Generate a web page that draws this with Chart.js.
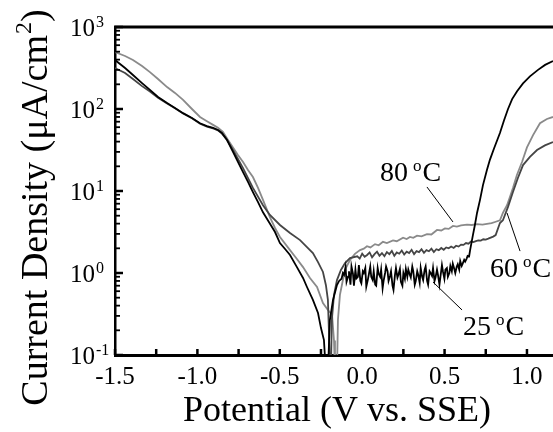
<!DOCTYPE html>
<html><head><meta charset="utf-8">
<script src="https://cdn.jsdelivr.net/npm/chart.js@4"></script>
<style>html,body{margin:0;padding:0;background:#fff;overflow:hidden}canvas{display:block}</style>
</head><body><canvas id="c" width="553" height="432"></canvas>
<script>
// ---- tick labels / titles ----
const xTickValues = [-1.5, -1.0, -0.5, 0.0, 0.5, 1.0];
const xTickLabels = ['-1.5', '-1.0', '-0.5', '0.0', '0.5', '1.0'];
const yTickValues = [1000, 100, 10, 1, 0.1];
const yTickExponents = ['3', '2', '1', '0', '-1'];
const xAxisTitle = 'Potential (V vs. SSE)';
const yAxisTitle = ['Current Density (\u03BCA/cm', '2', ')'];
const seriesTemps = ['25', '60', '80'];

// ---- 25 oC (black) ----
const pot25 = [-1.500,-1.439,-1.391,-1.336,-1.288,-1.239,-1.184,-1.136,-1.087,-1.033,-0.984,-0.942,-0.905,-0.875,-0.851,-0.820,-0.784,-0.754,-0.723,-0.693,-0.663,-0.632,-0.602,-0.566,-0.529,-0.499,-0.468,-0.438,-0.396,-0.359,-0.335,-0.299,-0.268,-0.250,-0.232,-0.220,-0.208,-0.196,-0.177,-0.153,-0.140,
 -0.125,-0.117,-0.110,-0.101,-0.095,-0.086,-0.080,-0.071,-0.065,-0.056,-0.050,-0.041,-0.035,-0.026,-0.020,-0.011,-0.005,0.004,0.010,0.019,0.025,0.034,0.040,0.049,0.055,0.064,0.070,0.079,0.085,0.094,0.100,0.109,0.115,0.124,0.130,0.139,0.145,0.154,0.160,0.169,0.175,0.184,0.190,0.199,0.205,0.214,0.220,0.229,0.235,0.244,0.250,0.259,0.265,0.274,0.280,0.289,0.295,0.304,0.310,0.319,0.325,0.334,0.340,0.349,0.355,0.364,0.370,0.379,0.385,0.394,0.400,0.409,0.415,0.424,0.430,0.439,0.445,0.454,0.460,0.469,0.475,0.484,0.490,0.499,0.505,0.514,0.520,0.529,0.535,0.544,0.550,0.559,0.565,0.574,0.580,0.589,0.595,0.604,0.610,0.619,0.625,0.634,0.640,0.649,0.655,
 0.672,0.684,0.697,0.715,0.733,0.757,0.775,0.800,0.836,0.860,0.885,0.910,0.940,0.976,1.018,1.067,1.110,1.158];
const cur25 = [396,316,260,207,171,140,118,103,89,77.6,67,62,59,55.5,51,41.9,30,22.6,17,12.9,9.7,7.3,5.5,4.19,3.16,2.32,1.96,1.66,1.18,0.869,0.675,0.469,0.325,0.213,0.152,0.06,0.06,0.267,0.469,0.714,0.80,
 0.85,1.0,0.95,1.18,0.78,0.9,1.05,0.72,1.2,0.98,0.7,1.1,0.86,0.9,1.25,0.8,0.75,1.05,1.0,1.15,0.68,0.82,0.95,1.2,0.9,0.82,1.05,0.72,0.7,1.15,0.98,0.9,1.1,0.65,0.8,1.0,1.2,1.05,0.8,0.92,1.05,0.7,0.62,0.95,1.15,0.88,0.95,1.12,0.78,0.7,1.0,0.85,1.12,0.9,1.1,0.95,0.88,1.2,1.05,0.72,0.8,1.05,0.95,0.76,1.15,0.9,0.82,1.1,1.2,0.8,0.72,1.05,1.0,0.92,1.15,0.8,0.88,1.1,0.95,0.72,0.9,1.25,1.05,0.85,1.1,1.15,0.9,1.0,1.22,1.05,1.3,1.12,1.0,1.2,1.28,1.1,1.4,1.22,1.3,1.45,1.38,1.5,1.62,1.6,1.9,
 2.9,3.85,5.4,7.8,11.8,18,24,33,51,72,100,132,165,205,250,300,345,385];

// ---- 60 oC (dark grey) ----
const pot60 = [-1.500,-1.439,-1.391,-1.336,-1.288,-1.239,-1.184,-1.136,-1.087,-1.033,-0.984,-0.942,-0.905,-0.875,-0.851,-0.820,-0.784,-0.723,-0.663,-0.602,-0.560,-0.499,-0.438,-0.377,-0.335,-0.299,-0.268,-0.238,-0.220,-0.208,-0.202,-0.196,-0.190,-0.184,-0.171,-0.153,-0.129,-0.104,-0.074,-0.030,
 -0.015,0.000,0.015,0.030,0.045,0.060,0.075,0.090,0.105,0.120,0.135,0.150,0.165,0.180,0.195,0.210,0.225,0.240,0.255,0.270,0.285,0.300,0.315,0.330,0.345,0.360,0.375,0.390,0.405,0.420,0.435,0.450,0.465,0.480,0.495,0.510,0.525,0.540,0.555,0.570,0.585,0.600,0.615,0.630,0.645,0.660,0.675,0.690,0.705,0.720,0.735,0.750,0.765,0.780,0.795,0.810,
 0.836,0.854,0.885,0.915,0.945,0.976,1.018,1.061,1.109,1.158];
const cur60 = [316,275,232,190,163,137,117,102,88,77,66,61,58,55,50,41.9,31.6,19,10.9,6.7,5.1,3.85,3.07,2.52,2.07,1.75,1.36,1.03,0.71,0.47,0.2,0.06,0.06,0.27,0.54,0.82,1.09,1.32,1.52,1.6,
 1.5,1.72,1.58,1.66,1.78,1.55,1.7,1.82,1.62,1.75,1.6,1.8,1.7,1.86,1.62,1.78,1.72,1.88,1.68,1.82,1.75,1.92,1.7,1.85,1.8,1.95,1.76,1.9,1.84,1.98,1.8,1.95,1.9,2.02,1.92,2.05,2.0,2.1,2.02,2.15,2.1,2.22,2.2,2.32,2.28,2.42,2.38,2.45,2.5,2.48,2.58,2.55,2.62,2.7,2.78,2.9,
 4.07,4.4,6.4,9.7,14.4,20.7,26,31.6,36,39.6];

// ---- 80 oC (light grey) ----
const pot80 = [-1.500,-1.439,-1.391,-1.336,-1.288,-1.239,-1.184,-1.136,-1.087,-1.033,-0.984,-0.942,-0.905,-0.875,-0.845,-0.814,-0.784,-0.754,-0.723,-0.693,-0.663,-0.632,-0.602,-0.560,-0.529,-0.499,-0.438,-0.396,-0.359,-0.317,-0.274,-0.238,-0.208,-0.183,-0.171,-0.165,-0.153,-0.147,-0.135,-0.117,-0.099,-0.074,-0.044,-0.013,
 0.010,0.029,0.050,0.078,0.100,0.126,0.150,0.187,0.210,0.248,0.270,0.290,0.310,0.333,0.360,0.393,0.420,0.454,0.480,0.502,0.525,0.551,0.575,0.600,0.636,0.665,0.697,0.730,0.757,0.785,0.806,
 0.836,0.854,0.879,0.897,0.915,0.939,0.970,1.000,1.037,1.079,1.121,1.158];
const cur80 = [495,443,396,334,282,232,185,157,129,100,80,71,64,59,52.5,41.9,34,27.5,22.6,18,14.8,10.9,7.8,4.8,3.54,2.75,1.9,1.48,1.18,0.87,0.675,0.43,0.354,0.31,0.15,0.06,0.06,0.27,0.54,0.82,1.15,1.44,1.71,1.9,
 1.98,2.12,2.05,2.25,2.18,2.4,2.32,2.5,2.44,2.7,2.6,2.75,2.68,2.85,2.8,2.98,2.95,3.35,3.3,3.5,3.45,3.75,3.68,3.8,3.9,3.85,3.95,3.9,3.98,4.05,4.19,
 4.4,5.4,6.7,8.5,10.9,15.7,22.6,34,48,67,75.5,80];

const toPts = (xs, ys) => xs.map((v, i) => ({x: v, y: ys[i]}));
const FF = "'Liberation Serif','Times New Roman',serif";

const deco = {
  id: 'deco',
  afterDraw(chart) {
    const {ctx, chartArea: a, scales: {x, y}} = chart;
    const line = (x1, y1, x2, y2) => { ctx.beginPath(); ctx.moveTo(x1, y1); ctx.lineTo(x2, y2); ctx.stroke(); };
    ctx.save();
    ctx.strokeStyle = '#000'; ctx.fillStyle = '#000';
    // top frame line
    ctx.lineWidth = 3;
    line(a.left - 1, a.top, a.right, a.top);
    // y ticks (inward)
    for (let e = -1; e <= 3; e++) {
      ctx.lineWidth = 2.5;
      const p = y.getPixelForValue(Math.pow(10, e));
      line(a.left, p, a.left + 8, p);
      if (e < 3) {
        ctx.lineWidth = 1.8;
        for (let k = 2; k <= 9; k++) {
          const q = y.getPixelForValue(k * Math.pow(10, e));
          line(a.left, q, a.left + 5, q);
        }
      }
    }
    // x ticks (inward) every 0.25
    ctx.lineWidth = 2.5;
    for (let v = -1.5; v <= x.max + 1e-9; v += 0.25) {
      const p = x.getPixelForValue(v);
      line(p, a.bottom, p, a.bottom - 6);
    }
    // x tick labels
    ctx.font = '25px ' + FF; ctx.textAlign = 'center'; ctx.textBaseline = 'alphabetic';
    xTickValues.forEach((v, i) => ctx.fillText(xTickLabels[i], x.getPixelForValue(v), a.bottom + 29));
    // y tick labels with superscripts
    yTickValues.forEach((v, i) => {
      const p = y.getPixelForValue(v);
      ctx.font = '25px ' + FF; ctx.textAlign = 'right'; ctx.textBaseline = 'middle';
      ctx.fillText('10', 95, p + 2);
      ctx.font = '16px ' + FF; ctx.textAlign = 'left'; ctx.textBaseline = 'alphabetic';
      ctx.fillText(yTickExponents[i], 96, p + 0);
    });
    // x title
    ctx.font = '36px ' + FF; ctx.textAlign = 'center'; ctx.textBaseline = 'alphabetic';
    ctx.fillText(xAxisTitle, 337, 421);
    // y title (rotated) with superscript 2
    ctx.save();
    ctx.translate(47, 208);
    ctx.rotate(-Math.PI / 2);
    ctx.font = '38px ' + FF;
    const w1 = ctx.measureText(yAxisTitle[0]).width;
    ctx.font = '24px ' + FF;
    const w2 = ctx.measureText(yAxisTitle[1]).width;
    ctx.font = '38px ' + FF;
    const w3 = ctx.measureText(yAxisTitle[2]).width;
    let sx = -(w1 + w2 + w3) / 2;
    ctx.textAlign = 'left';
    ctx.fillText(yAxisTitle[0], sx, 0);
    ctx.font = '24px ' + FF;
    ctx.fillText(yAxisTitle[1], sx + w1 + 1, -16);
    ctx.font = '38px ' + FF;
    ctx.fillText(yAxisTitle[2], sx + w1 + w2 + 1, 0);
    ctx.restore();
    // annotations: temperature labels with leader lines (data coordinates)
    const ann = [
      {t: seriesTemps[2], tx: 0.108, ty: 13.2, l: [0.393, 11.2, 0.551, 4.19]},
      {t: seriesTemps[1], tx: 0.775, ty: 0.893, l: [0.879, 5.4, 0.958, 1.85]},
      {t: seriesTemps[0], tx: 0.612, ty: 0.175, l: [0.430, 0.776, 0.606, 0.354]}
    ];
    ctx.lineWidth = 1;
    ann.forEach(an => {
      const px = x.getPixelForValue(an.tx), py = y.getPixelForValue(an.ty);
      ctx.textAlign = 'left'; ctx.textBaseline = 'alphabetic';
      ctx.font = '28px ' + FF;
      const tw = ctx.measureText(an.t + ' ').width;
      ctx.fillText(an.t + ' ', px, py);
      ctx.font = '17px ' + FF;
      const ow = ctx.measureText('o').width;
      ctx.fillText('o', px + tw - 2, py - 10);
      ctx.font = '28px ' + FF;
      ctx.fillText('C', px + tw + ow - 1, py);
      line(x.getPixelForValue(an.l[0]), y.getPixelForValue(an.l[1]), x.getPixelForValue(an.l[2]), y.getPixelForValue(an.l[3]));
    });
    ctx.restore();
  }
};

new Chart(document.getElementById('c'), {
  type: 'scatter',
  data: {
    datasets: [
      {label: '25 \u00B0C', data: toPts(pot25, cur25), showLine: true, borderColor: '#000000', borderWidth: 1.8, pointRadius: 0, tension: 0},
      {label: '60 \u00B0C', data: toPts(pot60, cur60), showLine: true, borderColor: '#454545', borderWidth: 1.8, pointRadius: 0, tension: 0},
      {label: '80 \u00B0C', data: toPts(pot80, cur80), showLine: true, borderColor: '#8a8a8a', borderWidth: 1.8, pointRadius: 0, tension: 0}
    ]
  },
  options: {
    responsive: false,
    animation: false,
    devicePixelRatio: 1,
    layout: {padding: {top: 27, right: 0, left: 0, bottom: 0}},
    plugins: {legend: {display: false}, tooltip: {enabled: false}},
    scales: {
      x: {
        type: 'linear', min: -1.5, max: 1.158,
        grid: {display: false, drawTicks: false},
        ticks: {display: false},
        border: {display: true, color: '#000', width: 3},
        afterFit(s) { s.height = 77; }
      },
      y: {
        type: 'logarithmic', min: 0.1, max: 1000,
        grid: {display: false, drawTicks: false},
        ticks: {display: false},
        border: {display: true, color: '#000', width: 2.5},
        afterFit(s) { s.width = 115; }
      }
    }
  },
  plugins: [deco]
});
</script>
</body></html>
